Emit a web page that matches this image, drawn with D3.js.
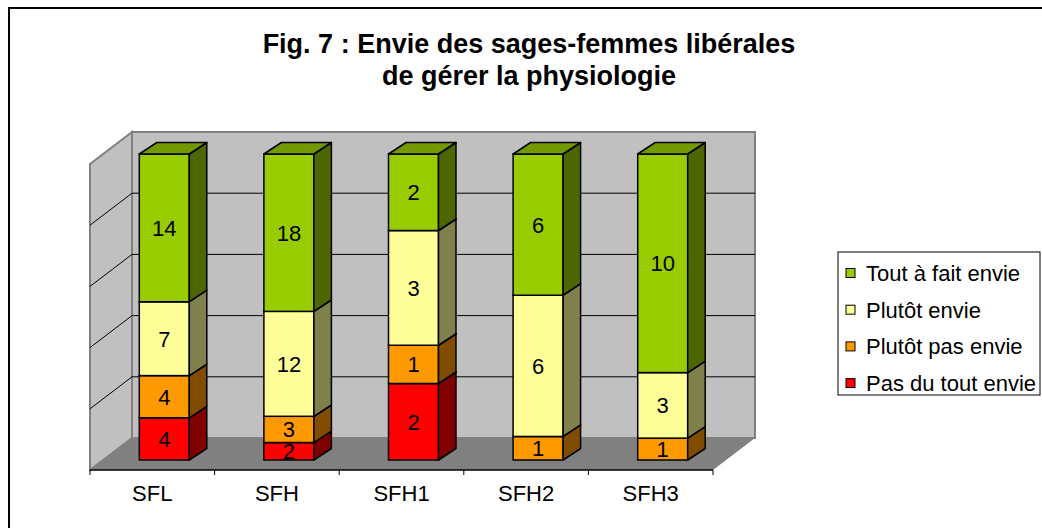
<!DOCTYPE html>
<html>
<head>
<meta charset="utf-8">
<script src="https://cdn.jsdelivr.net/npm/d3@7"></script>
<style>
  body { margin: 0; background: #fff; }
  svg { display: block; font-family: "Liberation Sans", Arial, sans-serif; }
</style>
</head>
<body>
<div id="chart"></div>
<script>
// data
const categories = ["SFL", "SFH", "SFH1", "SFH2", "SFH3"];
const seriesNames = ["Pas du tout envie", "Plutôt pas envie", "Plutôt envie", "Tout à fait envie"];
const pasDuTout = [4, 2, 2, 0, 0];
const plutotPas = [4, 3, 1, 1, 1];
const plutot = [7, 12, 3, 6, 3];
const toutAFait = [14, 18, 2, 6, 10];
const gridTicks = [0.2, 0.4, 0.6, 0.8];

const colors = ["#FF0000", "#FF9900", "#FFFF99", "#99CC00"];

const width = 1042, height = 528;

const svg = d3.select("#chart").append("svg")
    .attr("width", width)
    .attr("height", height);

// outer frame (right and bottom edges are out of the picture)
svg.append("rect")
    .attr("x", 9).attr("y", 8)
    .attr("width", 1200).attr("height", 1000)
    .attr("fill", "none")
    .attr("stroke", "#000")
    .attr("stroke-width", 2);

// title
svg.append("text")
    .attr("x", 529).attr("y", 53)
    .attr("text-anchor", "middle")
    .attr("font-size", 27).attr("font-weight", "bold")
    .text("Fig. 7 : Envie des sages-femmes libérales");
svg.append("text")
    .attr("x", 529).attr("y", 85)
    .attr("text-anchor", "middle")
    .attr("font-size", 27).attr("font-weight", "bold")
    .text("de gérer la physiologie");

// build table for the stack
const table = categories.map((c, i) => ({
    cat: c,
    [seriesNames[0]]: pasDuTout[i],
    [seriesNames[1]]: plutotPas[i],
    [seriesNames[2]]: plutot[i],
    [seriesNames[3]]: toutAFait[i]
}));

const stacked = d3.stack()
    .keys(seriesNames)
    .offset(d3.stackOffsetExpand)(table);

// front plane geometry + depth vector
const front = {left: 90, right: 713, base: 470};
const depth = {dx: 42, dy: 32};
const plotH = 306;

const x = d3.scaleBand()
    .domain(categories)
    .range([front.left, front.right]);

const y = d3.scaleLinear()
    .domain([0, 1])
    .range([0, plotH]);

// walls
const g = svg.append("g");

const wallTop = front.base - depth.dy - plotH;
const wallBase = front.base - depth.dy;

// back wall
g.append("rect")
    .attr("x", front.left + depth.dx).attr("y", wallTop)
    .attr("width", front.right - front.left).attr("height", plotH)
    .attr("fill", "#C0C0C0")
    .attr("stroke", "#808080").attr("stroke-width", 2);

// side wall
g.append("polygon")
    .attr("points", [
        [front.left, front.base - plotH],
        [front.left + depth.dx, wallTop],
        [front.left + depth.dx, wallBase],
        [front.left, front.base]
    ].map(p => p.join(",")).join(" "))
    .attr("fill", "#C0C0C0")
    .attr("stroke", "#808080").attr("stroke-width", 2);

// floor
g.append("polygon")
    .attr("points", [
        [front.left, front.base],
        [front.right, front.base],
        [front.right + depth.dx, wallBase],
        [front.left + depth.dx, wallBase]
    ].map(p => p.join(",")).join(" "))
    .attr("fill", "#808080");

// gridlines
gridTicks.forEach(t => {
    let yb = wallBase - y(t);
    g.append("line")
        .attr("x1", front.left + depth.dx).attr("x2", front.right + depth.dx)
        .attr("y1", yb).attr("y2", yb)
        .attr("stroke", "#000").attr("stroke-width", 1);
    g.append("line")
        .attr("x1", front.left).attr("y1", yb + depth.dy)
        .attr("x2", front.left + depth.dx).attr("y2", yb)
        .attr("stroke", "#000").attr("stroke-width", 1);
});

// category axis
g.append("line")
    .attr("x1", front.left).attr("x2", front.right)
    .attr("y1", front.base).attr("y2", front.base)
    .attr("stroke", "#000").attr("stroke-width", 1.5);

const tickXs = categories.map(c => x(c)).concat([front.right]);
tickXs.forEach(tx => {
    g.append("line")
        .attr("x1", tx).attr("x2", tx)
        .attr("y1", front.base).attr("y2", front.base + 5)
        .attr("stroke", "#000").attr("stroke-width", 1);
});

g.selectAll(".catLabel")
    .data(categories)
    .enter()
    .append("text")
    .attr("class", "catLabel")
    .attr("x", d => x(d) + x.bandwidth() / 2)
    .attr("y", 501)
    .attr("text-anchor", "middle")
    .attr("font-size", 22)
    .text(d => d);

// bars
const barW = 50;
const barFront = {dx: 12, dy: 10};
const barDepth = {dx: 17.5, dy: 11.5};

const darker = (c, k) => {
    let r = d3.rgb(c);
    return d3.rgb(r.r * k, r.g * k, r.b * k).formatHex();
};

const poly = pts => pts.map(p => p.join(",")).join(" ");

const bars = svg.append("g");

categories.forEach((cat, i) => {
    let x0 = x(cat) + x.bandwidth() / 2 + barFront.dx - barW / 2;
    let x1 = x0 + barW;
    let base = front.base - barFront.dy;

    stacked.forEach((s, k) => {
        let d = s[i];
        if (d[1] - d[0] <= 0) return;
        let yTop = base - y(d[1]);
        let yBot = base - y(d[0]);

        // front face
        bars.append("rect")
            .attr("x", x0).attr("y", yTop)
            .attr("width", barW).attr("height", yBot - yTop)
            .attr("fill", colors[k])
            .attr("stroke", "#000").attr("stroke-width", 1.5);

        // right side
        bars.append("polygon")
            .attr("points", poly([
                [x1, yTop], [x1 + barDepth.dx, yTop - barDepth.dy],
                [x1 + barDepth.dx, yBot - barDepth.dy], [x1, yBot]
            ]))
            .attr("fill", darker(colors[k], 0.5))
            .attr("stroke", "#000").attr("stroke-width", 1.5)
            .attr("stroke-linejoin", "round");

        // top face
        bars.append("polygon")
            .attr("points", poly([
                [x0, yTop], [x1, yTop],
                [x1 + barDepth.dx, yTop - barDepth.dy], [x0 + barDepth.dx, yTop - barDepth.dy]
            ]))
            .attr("fill", darker(colors[k], 0.75))
            .attr("stroke", "#000").attr("stroke-width", 1.5)
            .attr("stroke-linejoin", "round");

        // value label
        let v = table[i][seriesNames[k]];
        bars.append("text")
            .attr("x", x0 + barW / 2)
            .attr("y", (yTop + yBot) / 2)
            .attr("dy", "0.36em")
            .attr("text-anchor", "middle")
            .attr("font-size", 22)
            .text(v);
    });
});

// legend
const legend = svg.append("g");
legend.append("rect")
    .attr("x", 838).attr("y", 252)
    .attr("width", 202).attr("height", 143)
    .attr("fill", "#fff")
    .attr("stroke", "#000").attr("stroke-width", 1);

const legendItems = seriesNames.slice().reverse();
legendItems.forEach((name, j) => {
    let cy = 273 + j * 36.7;
    let k = seriesNames.indexOf(name);
    legend.append("rect")
        .attr("x", 846).attr("y", cy - 4.5)
        .attr("width", 9).attr("height", 9)
        .attr("fill", colors[k])
        .attr("stroke", "#000").attr("stroke-width", 1);
    legend.append("text")
        .attr("x", 866).attr("y", cy + 8)
        .attr("font-size", 22)
        .text(name);
});
</script>
</body>
</html>
